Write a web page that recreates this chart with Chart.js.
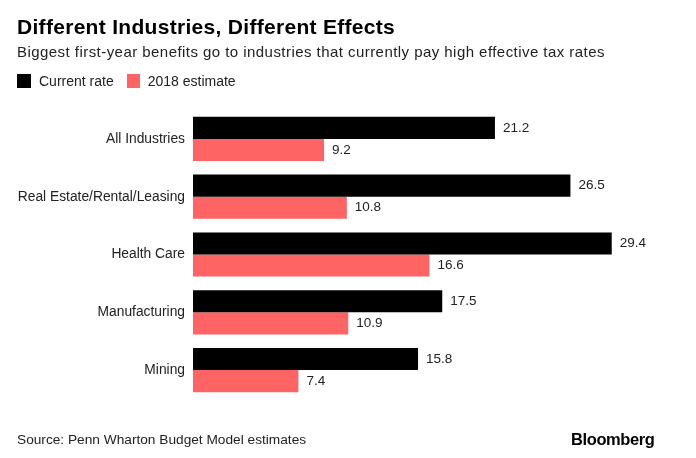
<!DOCTYPE html>
<html>
<head>
<meta charset="utf-8">
<script src="https://cdn.jsdelivr.net/npm/chart.js@4"></script>
<style>
  html, body { margin: 0; padding: 0; background: #fff; }
  body { width: 696px; height: 458px; position: relative; overflow: hidden; font-family: "Liberation Sans", Arial, Helvetica, sans-serif; color: #111; }
  #wrap { position: absolute; left: 0; top: 0; width: 696px; height: 458px; }
  .t { position: absolute; white-space: nowrap; }
  #title { left: 17px; top: 15px; font-size: 21px; font-weight: bold; color: #000; letter-spacing: 0.3px; }
  #subtitle { left: 17px; top: 43px; font-size: 15px; color: #222; letter-spacing: 0.45px; }
  #legend { left: 17px; top: 73px; font-size: 14px; color: #222; }
  .sw { display: inline-block; width: 14px; height: 14px; vertical-align: -2px; margin-right: 8px; }
  #source { left: 17px; top: 432px; font-size: 13.7px; color: #222; }
  #brand { left: 571px; top: 430px; font-size: 16.5px; font-weight: bold; color: #000; letter-spacing: -0.4px; }
</style>
</head>
<body>
<div id="wrap"><canvas id="c" width="696" height="458"></canvas></div>
<div class="t" id="title">Different Industries, Different Effects</div>
<div class="t" id="subtitle">Biggest first-year benefits go to industries that currently pay high effective tax rates</div>
<div class="t" id="legend"><span class="sw" style="background:#000"></span>Current rate<span class="sw" style="background:#ff6464;margin-left:13px;width:13px"></span>2018 estimate</div>
<div class="t" id="source">Source: Penn Wharton Budget Model estimates</div>
<div class="t" id="brand">Bloomberg</div>
<script>
const categories = ["All Industries", "Real Estate/Rental/Leasing", "Health Care", "Manufacturing", "Mining"];
const currentRate = [21.2, 26.5, 29.4, 17.5, 15.8];
const estimate2018 = [9.2, 10.8, 16.6, 10.9, 7.4];
const seriesNames = ["Current rate", "2018 estimate"];

const valueLabels = {
  id: 'valueLabels',
  afterDatasetsDraw(chart) {
    const ctx = chart.ctx;
    ctx.save();
    ctx.font = '13.5px "Liberation Sans", Arial, sans-serif';
    ctx.fillStyle = '#222';
    ctx.textAlign = 'left';
    ctx.textBaseline = 'middle';
    chart.data.datasets.forEach((ds, di) => {
      const meta = chart.getDatasetMeta(di);
      meta.data.forEach((bar, i) => {
        ctx.fillText(ds.data[i].toFixed(1), bar.x + 8, bar.y);
      });
    });
    ctx.restore();
  }
};

new Chart(document.getElementById('c'), {
  type: 'bar',
  data: {
    labels: categories,
    datasets: [
      { label: seriesNames[0], data: currentRate, backgroundColor: '#000000', categoryPercentage: 0.765, barPercentage: 1.0 },
      { label: seriesNames[1], data: estimate2018, backgroundColor: '#ff6464', categoryPercentage: 0.765, barPercentage: 1.0 }
    ]
  },
  options: {
    indexAxis: 'y',
    responsive: false,
    animation: false,
    events: [],
    layout: { padding: { left: 0, right: 33, top: 110, bottom: 59 } },
    plugins: { legend: { display: false }, tooltip: { enabled: false }, title: { display: false } },
    scales: {
      x: { display: false, min: 0, max: 33 },
      y: {
        afterFit(scale) { scale.width = 193; },
        grid: { display: false, drawTicks: false },
        border: { display: false },
        ticks: { padding: 8, color: '#222', font: { family: '"Liberation Sans", Arial, sans-serif', size: 13.8 } }
      }
    }
  },
  plugins: [valueLabels]
});
</script>
</body>
</html>
